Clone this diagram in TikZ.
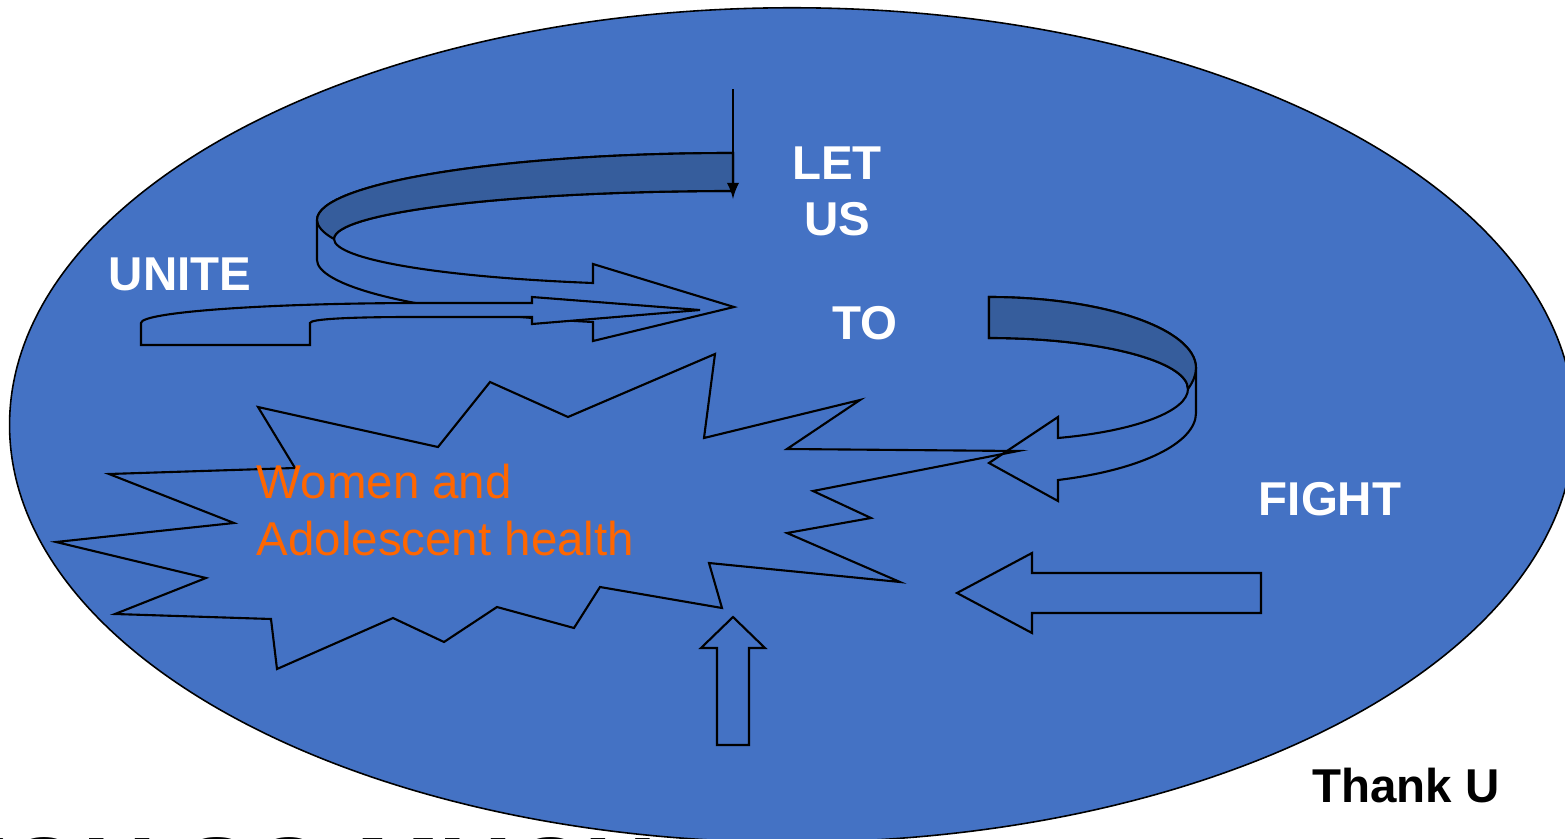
\documentclass[tikz,border=0pt]{standalone}
\usepackage{fontspec}
\setmainfont{Liberation Sans}
\definecolor{slideblue}{HTML}{4472C4}
\definecolor{bandblue}{HTML}{365D9C}
\definecolor{healthorange}{HTML}{FF6600}
\begin{document}
\begin{tikzpicture}[x=0.01cm,y=-0.01cm]
  \tikzstyle{every node}=[inner sep=0pt,font=\fontsize{13.5}{16}\selectfont]
  \tikzstyle{slogan}=[text=white,font=\fontsize{13.5}{16}\selectfont\bfseries]
  \tikzstyle{outline}=[draw=black,line width=0.6pt]
  \tikzstyle{ribbon}=[outline,fill=slideblue]
  \tikzstyle{band}=[outline,fill=bandblue]
  \useasboundingbox (0,0) rectangle (1565,839);
  \clip (0,0) rectangle (1565,839);
  \fill[white] (0,0) rectangle (1565,839);
  % big line of text, mostly below the page
  \node[anchor=base west,font=\fontsize{28.5}{34}\selectfont\bfseries] (somuch) at (-62,907) {YOU SO MUCH};
  % the oval
  \filldraw[fill=slideblue,draw=black,line width=0.45pt] (792,425) ellipse (7.82cm and 4.17cm);
  % upper u-turn ribbon
  \filldraw[ribbon] (733,153) .. controls (503,153) and (317,183) .. (317,220)
    -- (317,260) .. controls (317,283) and (400,312) .. (593,322)
    -- (593,341) -- (734,307) -- (593,264) -- (593,283)
    .. controls (437,277) and (334,259) .. (334,239)
    .. controls (334,212) and (513,191) .. (733,191) -- cycle;
  \filldraw[band] (733,153) .. controls (503,153) and (317,183) .. (317,220)
    .. controls (317,226) and (323,233) .. (334,239)
    .. controls (334,212) and (513,191) .. (733,191) -- cycle;
  \coordinate (droptop) at (733,89);
  \coordinate (dropend) at (733,199);
  \draw[-latex,line width=0.6pt] (droptop) -- (dropend);
  % unite arrow
  \filldraw[ribbon] (141,345) -- (141,323) .. controls (141,312) and (268,303) .. (424,303)
    -- (532,303) -- (532,297) -- (700,310) -- (532,324) -- (532,317) -- (412,317)
    .. controls (350,317) and (310,319) .. (310,323) -- (310,345) -- cycle;
  % right u-turn ribbon
  \filldraw[ribbon] (989,297) .. controls (1103,297) and (1196,329) .. (1196,368)
    -- (1196,413) .. controls (1196,443) and (1141,470) .. (1058,480)
    -- (1058,501) -- (989,463) -- (1058,417) -- (1058,438)
    .. controls (1136,431) and (1188,411) .. (1188,389)
    .. controls (1188,361) and (1099,338) .. (989,338) -- cycle;
  \filldraw[band] (989,297) .. controls (1103,297) and (1196,329) .. (1196,368)
    .. controls (1196,375) and (1193,382) .. (1188,389)
    .. controls (1188,361) and (1099,338) .. (989,338) -- cycle;
  % the burst
  \draw[outline] (258,407) -- (438,447) -- (490,382) -- (568,417) -- (715,354) -- (704,438)
    -- (860,400) -- (787,449) -- (1018,451) -- (813,491) -- (871,518) -- (787,533)
    -- (900,582) -- (709,563) -- (722,608) -- (600,587) -- (574,628) -- (497,607)
    -- (444,642) -- (393,618) -- (277,669) -- (271,619) -- (115,614) -- (206,578)
    -- (56,542) -- (234,523) -- (109,474) -- (295,468) -- cycle;
  % block arrows
  \draw[outline] (733,617) -- (765,648) -- (749,648) -- (749,745) -- (717,745) -- (717,648) -- (701,648) -- cycle;
  \draw[outline] (957,593) -- (1032,553) -- (1032,573) -- (1261,573) -- (1261,613) -- (1032,613) -- (1032,633) -- cycle;
  % words
  \node[slogan,anchor=base] (let) at (837,179) {LET};
  \node[slogan,anchor=base] (us) at (837,235) {US};
  \node[slogan,anchor=base] (to) at (865,339) {TO};
  \node[slogan,anchor=base] (unite) at (180,290) {UNITE};
  \node[slogan,anchor=base] (fight) at (1330,515) {FIGHT};
  \node[anchor=base west,text=healthorange] (women) at (256,498) {Women and};
  \node[anchor=base west,text=healthorange] (adol) at (256,555) {Adolescent health};
  \node[anchor=base,font=\fontsize{13.5}{16}\selectfont\bfseries] (thanku) at (1406,802) {Thank U};
\end{tikzpicture}
\end{document}
